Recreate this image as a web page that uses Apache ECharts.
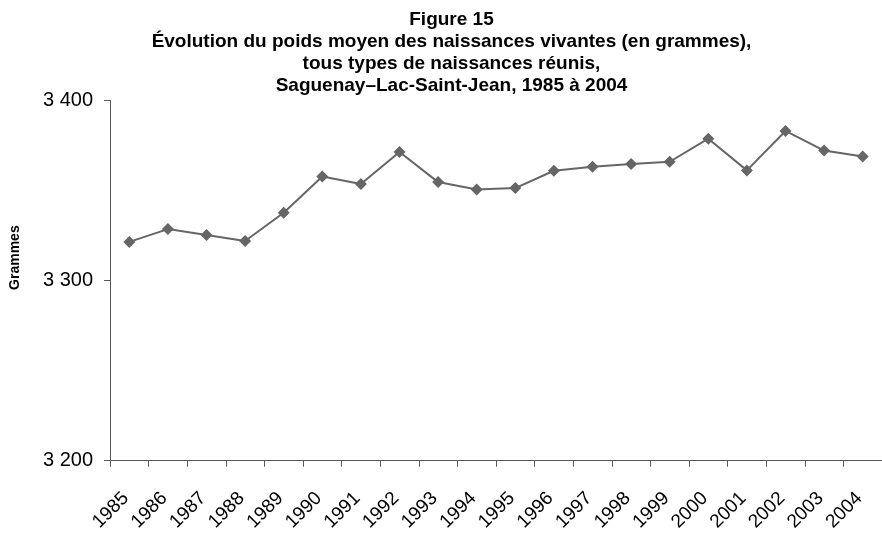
<!DOCTYPE html>
<html>
<head>
<meta charset="utf-8">
<script src="https://cdn.jsdelivr.net/npm/echarts@6/dist/echarts.min.js"></script>
<style>
  html, body { margin: 0; padding: 0; background: #fff; }
  #chart { width: 882px; height: 534px; }
</style>
</head>
<body>
<div id="chart"></div>
<script>
// Birth years shown on the category axis
const years = ['1985', '1986', '1987', '1988', '1989', '1990', '1991', '1992', '1993', '1994',
               '1995', '1996', '1997', '1998', '1999', '2000', '2001', '2002', '2003', '2004'];

// Mean weight of live births, in grams
const meanWeight = [3321.5, 3328.6, 3325.3, 3322.0, 3337.7, 3357.8, 3353.6, 3371.4, 3354.7, 3350.6,
                    3351.4, 3361.0, 3363.2, 3364.7, 3366.0, 3378.8, 3361.2, 3383.1, 3372.2, 3368.9];

// Value axis range and step
const yMin = 3200;
const yMax = 3400;
const yStep = 100;

const titleLines = [
  'Figure 15',
  'Évolution du poids moyen des naissances vivantes (en grammes),',
  'tous types de naissances réunis,',
  'Saguenay–Lac-Saint-Jean, 1985 à 2004'
];

const FONT = '"Liberation Sans", Arial, Helvetica, sans-serif';
const AXIS_COLOR = '#595959';
const SERIES_COLOR = '#666666';

const chart = echarts.init(document.getElementById('chart'), null, { renderer: 'canvas' });

// French-style thousands separator: 3400 -> "3 400"
function groupThousands(v) {
  return String(Math.round(v)).replace(/\B(?=(\d{3})+(?!\d))/g, ' ');
}

chart.setOption({
  animation: false,
  backgroundColor: '#ffffff',
  textStyle: { fontFamily: FONT },
  title: {
    text: titleLines.join('\n'),
    left: 451.5,
    top: 9,
    padding: 0,
    textAlign: 'center',
    textStyle: {
      fontFamily: FONT,
      fontSize: 19,
      fontWeight: 'bold',
      lineHeight: 22,
      color: '#000000'
    }
  },
  grid: {
    left: 109,
    top: 100.5,
    width: 786,
    height: 365,
    containLabel: false
  },
  xAxis: {
    type: 'category',
    data: years,
    boundaryGap: true,
    axisLine: { show: true, lineStyle: { color: AXIS_COLOR, width: 1 } },
    axisTick: { show: true, alignWithLabel: false, length: 6, lineStyle: { color: AXIS_COLOR } },
    axisLabel: {
      interval: 0,
      rotate: 45,
      margin: 31,
      padding: [0, 5, 0, 0],
      fontFamily: FONT,
      fontSize: 19,
      color: '#000000'
    },
    splitLine: { show: false }
  },
  yAxis: {
    type: 'value',
    min: yMin,
    max: yMax,
    interval: yStep,
    name: 'Grammes',
    nameLocation: 'middle',
    nameRotate: 90,
    nameGap: 88,
    nameTextStyle: {
      fontFamily: FONT,
      fontSize: 14,
      fontWeight: 'bold',
      color: '#000000',
      padding: [0, 0, 0, 46]
    },
    axisLine: { show: true, lineStyle: { color: AXIS_COLOR, width: 1 } },
    axisTick: { show: true, inside: false, length: 6, lineStyle: { color: AXIS_COLOR } },
    axisLabel: {
      margin: 17,
      fontFamily: FONT,
      fontSize: 20,
      color: '#000000',
      formatter: groupThousands
    },
    splitLine: { show: false }
  },
  series: [{
    type: 'line',
    data: meanWeight,
    symbol: 'diamond',
    symbolSize: 12,
    showAllSymbol: true,
    lineStyle: { color: SERIES_COLOR, width: 2 },
    itemStyle: { color: SERIES_COLOR, borderWidth: 0 },
    emphasis: { disabled: true }
  }]
});
</script>
</body>
</html>
